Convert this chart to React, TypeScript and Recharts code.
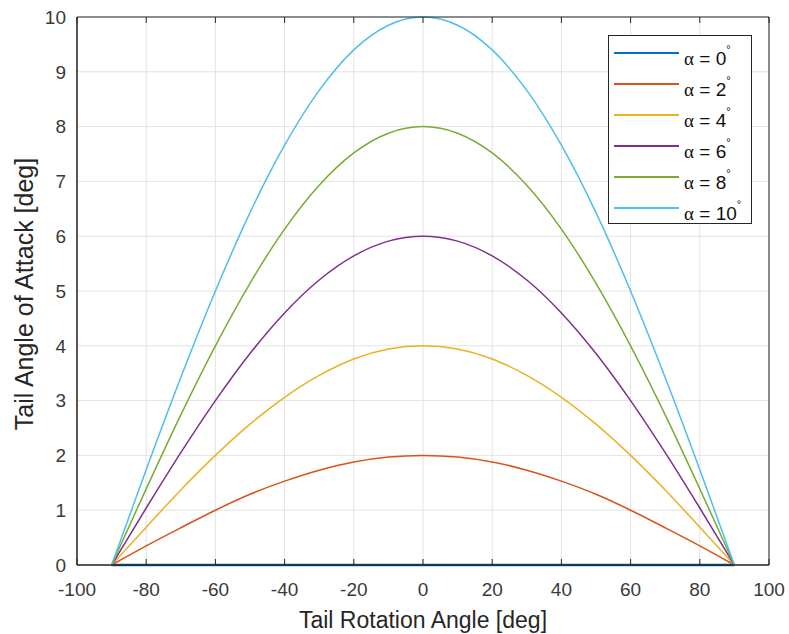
import React from 'react';
import { LineChart, Line, XAxis, YAxis, CartesianGrid, Legend, Label } from 'recharts';

// tail rotation angle samples [deg]
const angles = [-90, -80, -70, -60, -50, -40, -30, -20, -10, 0, 10, 20, 30, 40, 50, 60, 70, 80, 90];

// tail angle of attack [deg], one array per alpha
const alpha0 = [0, 0, 0, 0, 0, 0, 0, 0, 0, 0, 0, 0, 0, 0, 0, 0, 0, 0, 0];
const alpha2 = [0, 0.35, 0.68, 1.0, 1.29, 1.53, 1.73, 1.88, 1.97, 2.0, 1.97, 1.88, 1.73, 1.53, 1.29, 1.0, 0.68, 0.35, 0];
const alpha4 = [0, 0.69, 1.37, 2.0, 2.57, 3.06, 3.46, 3.76, 3.94, 4.0, 3.94, 3.76, 3.46, 3.06, 2.57, 2.0, 1.37, 0.69, 0];
const alpha6 = [0, 1.04, 2.05, 3.0, 3.86, 4.6, 5.2, 5.64, 5.91, 6.0, 5.91, 5.64, 5.2, 4.6, 3.86, 3.0, 2.05, 1.04, 0];
const alpha8 = [0, 1.39, 2.74, 4.0, 5.14, 6.13, 6.93, 7.52, 7.88, 8.0, 7.88, 7.52, 6.93, 6.13, 5.14, 4.0, 2.74, 1.39, 0];
const alpha10 = [0, 1.74, 3.42, 5.0, 6.43, 7.66, 8.66, 9.4, 9.85, 10.0, 9.85, 9.4, 8.66, 7.66, 6.43, 5.0, 3.42, 1.74, 0];

const xTicks = [-100, -80, -60, -40, -20, 0, 20, 40, 60, 80, 100];
const yTicks = [0, 1, 2, 3, 4, 5, 6, 7, 8, 9, 10];

const series = [
  { key: 'a0', name: '0', values: alpha0, color: '#0072BD' },
  { key: 'a2', name: '2', values: alpha2, color: '#D95319' },
  { key: 'a4', name: '4', values: alpha4, color: '#EDB120' },
  { key: 'a6', name: '6', values: alpha6, color: '#7E2F8E' },
  { key: 'a8', name: '8', values: alpha8, color: '#77AC30' },
  { key: 'a10', name: '10', values: alpha10, color: '#4DBEEE' },
];

const data = angles.map((angle, i) => {
  const row: Record<string, number> = { angle };
  series.forEach((s) => {
    row[s.key] = s.values[i];
  });
  return row;
});

const FONT = '"Liberation Sans", Arial, Helvetica, sans-serif';
const AXIS = '#262626';
const blank = () => '';

// legend keeps the plotting order (recharts would sort it by name)
const LegendBox = () => (
  <div
    style={{
      width: 142,
      height: 186,
      border: `1px solid ${AXIS}`,
      background: '#fff',
      boxSizing: 'content-box',
      paddingTop: 1,
    }}
  >
    {series.map((s) => (
      <div key={s.key} style={{ display: 'flex', alignItems: 'center', height: 31 }}>
        <div style={{ width: 65, height: 2, background: s.color, marginLeft: 5, marginRight: 5 }} />
        <span style={{ fontFamily: FONT, fontSize: 19, color: '#111', whiteSpace: 'nowrap', marginTop: 8 }}>
          <span style={{ fontFamily: '"Liberation Serif", "DejaVu Serif", serif' }}>α</span> = {s.name}
          <sup style={{ fontSize: 11, verticalAlign: 12 }}>°</sup>
        </span>
      </div>
    ))}
  </div>
);

export default function App() {
  return (
    <div style={{ position: 'absolute', left: 0, top: 0, width: 789, height: 634, background: '#fff' }}>
      <LineChart width={789} height={634} data={data} margin={{ top: 17, right: 20, bottom: 68, left: 76 }}>
        <CartesianGrid stroke="#e3e3e3" strokeWidth={1} />
        <XAxis
          dataKey="angle"
          type="number"
          domain={[-100, 100]}
          ticks={xTicks}
          height={1}
          tickLine={false}
          tickSize={0}
          tickMargin={18}
          axisLine={{ stroke: AXIS }}
          tick={{ fill: '#3a3a3a', fontSize: 19, fontFamily: FONT }}
        >
          <Label
            content={({ viewBox }: any) => (
              <text
                x={viewBox.x + viewBox.width / 2}
                y={viewBox.y + 63}
                textAnchor="middle"
                fill={AXIS}
                fontSize={23}
                fontFamily={FONT}
              >
                Tail Rotation Angle [deg]
              </text>
            )}
          />
        </XAxis>
        <XAxis xAxisId="bin" dataKey="angle" type="number" domain={[-100, 100]} ticks={xTicks} orientation="bottom" mirror height={1} tickSize={6} tickFormatter={blank} axisLine={{ stroke: AXIS }} tickLine={{ stroke: AXIS }} />
        <XAxis xAxisId="top" dataKey="angle" type="number" domain={[-100, 100]} ticks={xTicks} orientation="top" mirror height={1} tickSize={6} tickFormatter={blank} axisLine={{ stroke: AXIS }} tickLine={{ stroke: AXIS }} />
        <YAxis
          type="number"
          domain={[0, 10]}
          ticks={yTicks}
          width={1}
          tickLine={false}
          tickSize={0}
          tickMargin={11}
          axisLine={{ stroke: AXIS }}
          tick={{ fill: '#3a3a3a', fontSize: 19, fontFamily: FONT }}
        >
          <Label
            content={({ viewBox }: any) => {
              const cx = viewBox.x + viewBox.width - 44;
              const cy = viewBox.y + viewBox.height / 2 + 3;
              return (
                <text
                  x={cx}
                  y={cy}
                  transform={`rotate(-90, ${cx}, ${cy})`}
                  textAnchor="middle"
                  fill={AXIS}
                  fontSize={25}
                  fontFamily={FONT}
                >
                  Tail Angle of Attack [deg]
                </text>
              );
            }}
          />
        </YAxis>
        <YAxis yAxisId="lin" type="number" domain={[0, 10]} ticks={yTicks} orientation="left" mirror width={1} tickSize={6} tickFormatter={blank} axisLine={{ stroke: AXIS }} tickLine={{ stroke: AXIS }} />
        <YAxis yAxisId="right" type="number" domain={[0, 10]} ticks={yTicks} orientation="right" mirror width={1} tickSize={6} tickFormatter={blank} axisLine={{ stroke: AXIS }} tickLine={{ stroke: AXIS }} />
        <Legend
          layout="horizontal"
          verticalAlign="middle"
          align="center"
          content={<LegendBox />}
          wrapperStyle={{ left: 608, top: 35, width: 144, height: 189 }}
        />
        {series.map((s) => (
          <Line
            key={s.key}
            dataKey={s.key}
            name={s.name}
            type="monotone"
            stroke={s.color}
            strokeWidth={s.key === 'a0' ? 2.5 : 1.5}
            dot={false}
            activeDot={false}
            isAnimationActive={false}
          />
        ))}
      </LineChart>
    </div>
  );
}
